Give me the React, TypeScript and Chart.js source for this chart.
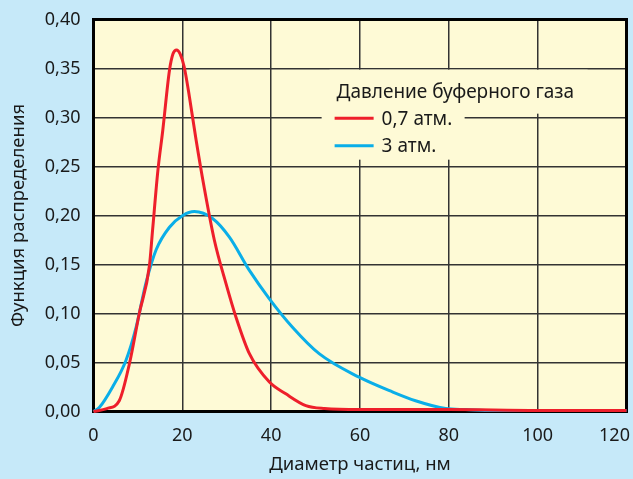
import React, { useEffect, useRef } from "react";
import { Chart, registerables } from "chart.js";

Chart.register(...registerables);

// ---- Data ----
const redX = [0, 3, 5.8, 8.1, 10.3, 12.6, 13.3, 14.5, 15.6, 17.1, 17.9, 18.7, 19.5, 20.4, 21.6, 23.1, 24.9, 27.2, 29.8, 32.1, 35.1, 39.6, 43.3, 47.8, 52, 60, 80, 100, 120];
const redY = [0, 0.003, 0.011, 0.049, 0.1, 0.149, 0.185, 0.246, 0.287, 0.348, 0.365, 0.369, 0.365, 0.352, 0.321, 0.277, 0.229, 0.175, 0.131, 0.096, 0.059, 0.03, 0.018, 0.006, 0.003, 0.002, 0.002, 0.001, 0.001];

const blueX = [0, 1.3, 4.3, 7.3, 9.6, 11.8, 14.1, 17.1, 20.1, 22.7, 26.8, 30.6, 35.1, 39.6, 44.8, 50.8, 59.8, 67.3, 72.5, 79.3, 83.8, 90, 100, 120];
const blueY = [0, 0.004, 0.025, 0.052, 0.086, 0.131, 0.165, 0.188, 0.2, 0.204, 0.197, 0.178, 0.144, 0.115, 0.086, 0.059, 0.035, 0.02, 0.011, 0.003, 0.002, 0.001, 0.001, 0.001];

const seriesLabels = ["0,7 атм.", "3 атм."];
const legendTitle = "Давление буферного газа";
const xTitle = "Диаметр частиц, нм";
const yTitle = "Функция распределения";

const PAGE_BG = "#c6e9f9";
const PLOT_BG = "#fefad6";
const RED = "#ee1f2b";
const BLUE = "#0aaee8";
const FONT = "'Noto Sans', sans-serif";
const TEXT = "#1a1a1a";

const toPoints = (xs: number[], ys: number[]) => xs.map((x, i) => ({ x, y: ys[i] }));

const framePlugin = {
  id: "frame",
  beforeDraw(chart: any) {
    const { ctx, chartArea: a } = chart;
    ctx.save();
    ctx.fillStyle = PLOT_BG;
    ctx.fillRect(a.left, a.top, a.right - a.left, a.bottom - a.top);
    ctx.restore();
    // keep the last x tick label inside the canvas
    try {
      const items = chart.scales.x.getLabelItems();
      const last = items[items.length - 1];
      if (last && last.options && last.options.translation) {
        last.options.translation = [last.options.translation[0] - 12, last.options.translation[1]];
      }
    } catch (e) {}
  },
  beforeDatasetsDraw(chart: any) {
    const { ctx, chartArea: a } = chart;
    ctx.save();
    const w = a.right - a.left;
    const h = a.bottom - a.top;
    const lx = a.left + w * 0.428;
    const ty = a.top + h * 0.128;
    // legend background masks
    ctx.fillStyle = PLOT_BG;
    ctx.fillRect(lx + 8, ty, 258, 44);
    ctx.fillRect(lx, ty + 40, 143, 50);
    // border
    ctx.strokeStyle = "#000";
    ctx.lineWidth = 3;
    ctx.strokeRect(a.left, a.top, w, h);
    // legend text
    ctx.fillStyle = TEXT;
    ctx.font = `19px ${FONT}`;
    ctx.textBaseline = "middle";
    ctx.textAlign = "left";
    const tx = lx + 15;
    ctx.fillText(legendTitle, tx, ty + 23);
    const colors = [RED, BLUE];
    seriesLabels.forEach((lab, i) => {
      const y = ty + 48.5 + i * 27.5;
      ctx.strokeStyle = colors[i];
      ctx.lineWidth = 3;
      ctx.beginPath();
      ctx.moveTo(tx - 2, y);
      ctx.lineTo(tx + 37, y);
      ctx.stroke();
      ctx.fillStyle = TEXT;
      ctx.fillText(lab, tx + 45, y + 1);
    });
    ctx.restore();
  },
};

export default function App() {
  const ref = useRef<HTMLCanvasElement>(null);
  useEffect(() => {
    document.body.style.margin = "0";
    document.body.style.background = PAGE_BG;
    const chart = new Chart(ref.current!, {
      type: "line",
      data: {
        datasets: [
          {
            label: seriesLabels[0],
            data: toPoints(redX, redY),
            borderColor: RED,
            borderWidth: 3,
            pointRadius: 0,
            cubicInterpolationMode: "monotone",
            clip: false as any,
          },
          {
            label: seriesLabels[1],
            data: toPoints(blueX, blueY),
            borderColor: BLUE,
            borderWidth: 3,
            pointRadius: 0,
            cubicInterpolationMode: "monotone",
            clip: false as any,
          },
        ],
      },
      options: {
        animation: false,
        responsive: false,
        devicePixelRatio: 1,
        layout: { autoPadding: false, padding: { left: 0, right: 6.5, top: 19.5, bottom: 0 } } as any,
        plugins: { legend: { display: false }, tooltip: { enabled: false } },
        scales: {
          x: {
            type: "linear",
            min: 0,
            max: 120,
            border: { display: false },
            grid: { color: "#333", lineWidth: 1.5, drawTicks: false },
            ticks: { stepSize: 20, padding: 14, color: TEXT, font: { family: FONT, size: 18 } },
            title: { display: true, text: xTitle, color: TEXT, font: { family: FONT, size: 18.5 }, padding: { top: 0, bottom: 3 } },
            afterFit: (s: any) => {
              s.height = 67.5;
              s.paddingLeft = 0;
              s.paddingRight = 0;
            },
          },
          y: {
            min: 0,
            max: 0.4,
            border: { display: false },
            grid: { color: "#333", lineWidth: 1.5, drawTicks: false },
            ticks: {
              stepSize: 0.05,
              padding: 13,
              color: TEXT,
              font: { family: FONT, size: 18 },
              callback: (v: any) => Number(v).toFixed(2).replace(".", ","),
            },
            title: { display: true, text: yTitle, color: TEXT, font: { family: FONT, size: 18.5 }, padding: { top: 8, bottom: 0 } },
            afterFit: (s: any) => {
              s.width = 93.5;
              s.paddingTop = 0;
              s.paddingBottom = 0;
            },
          },
        },
      },
      plugins: [framePlugin],
    });
    return () => chart.destroy();
  }, []);
  return (
    <div style={{ width: 633, height: 479, background: PAGE_BG }}>
      <canvas ref={ref} width={633} height={479} style={{ display: "block" }} />
    </div>
  );
}
